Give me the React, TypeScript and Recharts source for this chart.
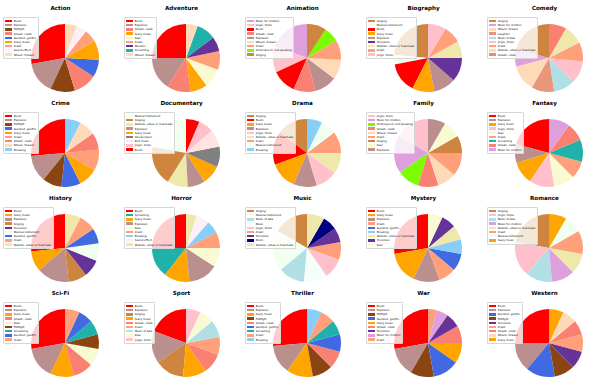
import { PieChart, Pie, Legend } from "recharts";

// colour per sound class, shared by every genre
const soundColors: Record<string, string> = {
  Boom: "#ff0000",
  Explosion: "#bc8f8f",
  Fistfight: "#8b4513",
  "Smash, crash": "#fa8072",
  "Gunshot, gunfire": "#4169e1",
  "Scary music": "#ffa500",
  Crash: "#ffa07a",
  "Sound effect": "#fff0f5",
  "Whack, thwack": "#ffdab9",
  Roar: "#fafad2",
  Monster: "#663399",
  Screaming: "#20b2aa",
  "Music for children": "#dda0dd",
  "Jingle, tinkle": "#ffc0cb",
  "Child speech, kid speaking": "#7cfc00",
  Singing: "#cd853f",
  "Musical instrument": "#f0fff0",
  Television: "#663399",
  "Outside, urban or manmade": "#eee8aa",
  Laughter: "#e9967a",
  "Music of Asia": "#b0e0e6",
  Breaking: "#87cefa",
  Glockenspiel: "#808080",
  "Bird music": "#ffe4e1",
  Drum: "#000080",
  Music: "#f5fffa",
};

const actionSounds = ["Boom", "Explosion", "Fistfight", "Smash, crash", "Gunshot, gunfire", "Scary music", "Crash", "Sound effect", "Whack, thwack"];
const actionShares = [100, 55, 42, 40, 30, 33, 22, 18, 20];

const adventureSounds = ["Boom", "Explosion", "Smash, crash", "Scary music", "Roar", "Crash", "Monster", "Screaming", "Whack, thwack"];
const adventureShares = [90, 57, 41, 29, 33, 32, 25, 33, 20];

const animationSounds = ["Music for children", "Jingle, tinkle", "Boom", "Smash, crash", "Explosion", "Whack, thwack", "Crash", "Child speech, kid speaking", "Singing"];
const animationShares = [70, 45, 42, 37, 39, 34, 34, 26, 33];

const biographySounds = ["Singing", "Musical instrument", "Boom", "Scary music", "Explosion", "Television", "Outside, urban or manmade", "Crash", "Jingle, tinkle"];
const biographyShares = [85, 16, 52, 38, 38, 41, 29, 30, 31];

const comedySounds = ["Singing", "Music for children", "Whack, thwack", "Laughter", "Music of Asia", "Jingle, tinkle", "Crash", "Outside, urban or manmade", "Smash, crash"];
const comedyShares = [75, 30, 45, 39, 37, 38, 33, 33, 30];

const crimeSounds = ["Boom", "Explosion", "Fistfight", "Gunshot, gunfire", "Scary music", "Crash", "Smash, crash", "Whack, thwack", "Breaking"];
const crimeShares = [95, 46, 33, 33, 33, 36, 29, 28, 27];

const documentarySounds = ["Musical instrument", "Singing", "Outside, urban or manmade", "Explosion", "Scary music", "Glockenspiel", "Bird music", "Jingle, tinkle", "Boom"];
const documentaryShares = [80, 68, 35, 30, 33, 35, 30, 26, 23];

const dramaSounds = ["Singing", "Boom", "Scary music", "Explosion", "Jingle, tinkle", "Outside, urban or manmade", "Crash", "Musical instrument", "Breaking"];
const dramaShares = [53, 57, 47, 40, 37, 36, 37, 27, 26];

const familySounds = ["Jingle, tinkle", "Music for children", "Child speech, kid speaking", "Smash, crash", "Whack, thwack", "Crash", "Singing", "Roar", "Explosion"];
const familyShares = [60, 65, 38, 35, 32, 40, 30, 30, 30];

const fantasySounds = ["Boom", "Explosion", "Scary music", "Jingle, tinkle", "Roar", "Crash", "Screaming", "Smash, crash", "Music for children"];
const fantasyShares = [75, 32, 39, 43, 36, 30, 38, 31, 36];

const historySounds = ["Boom", "Scary music", "Explosion", "Singing", "Television", "Musical instrument", "Gunshot, gunfire", "Crash", "Outside, urban or manmade"];
const historyShares = [96, 35, 55, 32, 30, 30, 26, 29, 27];

const horrorSounds = ["Boom", "Screaming", "Scary music", "Explosion", "Roar", "Crash", "Breaking", "Sound effect", "Outside, urban or manmade"];
const horrorShares = [90, 52, 44, 51, 33, 27, 22, 23, 18];

const musicSounds = ["Singing", "Musical instrument", "Music of Asia", "Music", "Jingle, tinkle", "Crash", "Television", "Drum", "Outside, urban or manmade"];
const musicShares = [60, 70, 45, 40, 35, 30, 25, 25, 30];

const mysterySounds = ["Boom", "Scary music", "Explosion", "Crash", "Gunshot, gunfire", "Breaking", "Outside, urban or manmade", "Television", "Roar"];
const mysteryShares = [100, 55, 45, 30, 30, 25, 25, 25, 25];

const romanceSounds = ["Singing", "Jingle, tinkle", "Music of Asia", "Music for children", "Outside, urban or manmade", "Crash", "Musical instrument", "Scary music"];
const romanceShares = [80, 60, 45, 40, 35, 40, 30, 30];

const scifiSounds = ["Boom", "Explosion", "Scary music", "Smash, crash", "Roar", "Fistfight", "Screaming", "Gunshot, gunfire", "Crash"];
const scifiShares = [100, 55, 40, 35, 30, 25, 25, 25, 25];

const sportSounds = ["Boom", "Explosion", "Singing", "Scary music", "Smash, crash", "Crash", "Music of Asia", "Roar", "Jingle, tinkle"];
const sportShares = [70, 55, 50, 40, 35, 30, 30, 25, 25];

const thrillerSounds = ["Boom", "Explosion", "Scary music", "Fistfight", "Smash, crash", "Gunshot, gunfire", "Screaming", "Crash", "Breaking"];
const thrillerShares = [95, 50, 45, 35, 30, 30, 25, 25, 25];

const warSounds = ["Boom", "Explosion", "Fistfight", "Gunshot, gunfire", "Scary music", "Smash, crash", "Television", "Music for children", "Crash"];
const warShares = [100, 50, 40, 45, 35, 30, 25, 20, 15];

const westernSounds = ["Boom", "Explosion", "Gunshot, gunfire", "Fistfight", "Television", "Crash", "Smash, crash", "Whack, thwack", "Scary music"];
const westernShares = [90, 50, 50, 35, 30, 30, 25, 25, 25];

const panels = [
  { title: "Action", sounds: actionSounds, shares: actionShares },
  { title: "Adventure", sounds: adventureSounds, shares: adventureShares },
  { title: "Animation", sounds: animationSounds, shares: animationShares },
  { title: "Biography", sounds: biographySounds, shares: biographyShares },
  { title: "Comedy", sounds: comedySounds, shares: comedyShares },
  { title: "Crime", sounds: crimeSounds, shares: crimeShares },
  { title: "Documentary", sounds: documentarySounds, shares: documentaryShares },
  { title: "Drama", sounds: dramaSounds, shares: dramaShares },
  { title: "Family", sounds: familySounds, shares: familyShares },
  { title: "Fantasy", sounds: fantasySounds, shares: fantasyShares },
  { title: "History", sounds: historySounds, shares: historyShares },
  { title: "Horror", sounds: horrorSounds, shares: horrorShares },
  { title: "Music", sounds: musicSounds, shares: musicShares },
  { title: "Mystery", sounds: mysterySounds, shares: mysteryShares },
  { title: "Romance", sounds: romanceSounds, shares: romanceShares },
  { title: "Sci-Fi", sounds: scifiSounds, shares: scifiShares },
  { title: "Sport", sounds: sportSounds, shares: sportShares },
  { title: "Thriller", sounds: thrillerSounds, shares: thrillerShares },
  { title: "War", sounds: warSounds, shares: warShares },
  { title: "Western", sounds: westernSounds, shares: westernShares },
];

const W = 121;
const H = 95;

// legend keeps the pie's own slice order (recharts would sort it)
const renderLegend = (sounds: string[]) => (
  <div
    style={{
      background: "rgba(255,255,255,0.8)",
      border: "0.5px solid #d6d6d6",
      borderRadius: 1,
      padding: "1px 1.4px",
      fontFamily: "DejaVu Sans",
      fontSize: 2.7,
      color: "#000",
      whiteSpace: "nowrap",
    }}
  >
    {sounds.map((s) => (
      <div key={s} style={{ display: "flex", alignItems: "center", height: 4.2 }}>
        <span
          style={{
            display: "inline-block",
            width: 6.5,
            height: 2.4,
            background: soundColors[s],
            marginRight: 1.8,
          }}
        />
        <span style={{ lineHeight: "4.2px" }}>{s}</span>
      </div>
    ))}
  </div>
);

function Panel({ title, sounds, shares }: { title: string; sounds: string[]; shares: number[] }) {
  const data = sounds.map((s, i) => ({ name: s, value: shares[i], fill: soundColors[s] }));
  return (
    <div style={{ position: "relative", width: W, height: H }}>
      <PieChart width={W} height={H}>
        <Pie
          data={data}
          dataKey="value"
          nameKey="name"
          cx={60}
          cy={53}
          outerRadius={34}
          startAngle={90}
          endAngle={450}
          stroke="none"
          isAnimationActive={false}
        />
        <Legend
          layout="vertical"
          align="center"
          verticalAlign="middle"
          content={() => renderLegend(sounds)}
          wrapperStyle={{ left: 3, top: 17, width: "auto", height: "auto" }}
        />
      </PieChart>
      <div
        style={{
          position: "absolute",
          top: 4.5,
          left: 0,
          width: W,
          textAlign: "center",
          fontFamily: "DejaVu Sans",
          fontWeight: "bold",
          fontSize: 5.6,
          color: "#000",
        }}
      >
        {title}
      </div>
    </div>
  );
}

export default function App() {
  return (
    <div
      style={{
        position: "absolute",
        left: 0,
        top: 0,
        width: 605,
        height: 379,
        background: "#fff",
        display: "grid",
        gridTemplateColumns: `repeat(5, ${W}px)`,
        gridAutoRows: `${H}px`,
      }}
    >
      {panels.map((p) => (
        <Panel key={p.title} title={p.title} sounds={p.sounds} shares={p.shares} />
      ))}
    </div>
  );
}
